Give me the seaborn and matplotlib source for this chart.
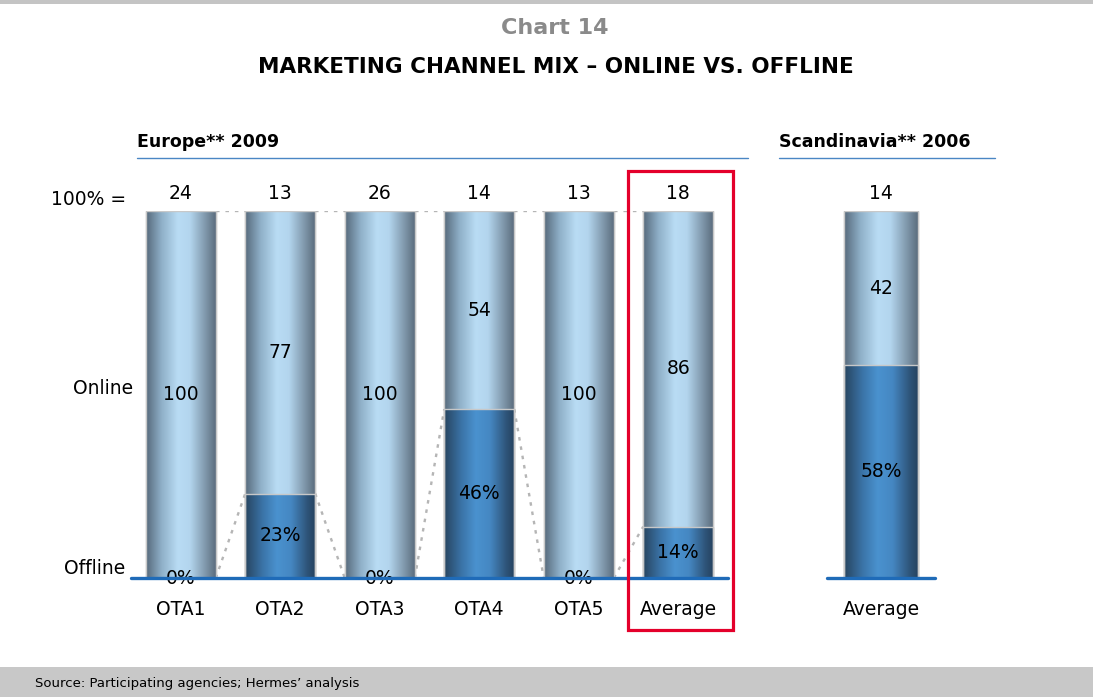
import numpy as np
import pandas as pd
import matplotlib
matplotlib.use("Agg")
import matplotlib.pyplot as plt
import seaborn as sns
from matplotlib.colors import LinearSegmentedColormap
from matplotlib.patches import Rectangle
from matplotlib.lines import Line2D

# ---- data ----
eu_categories = ["OTA1", "OTA2", "OTA3", "OTA4", "OTA5", "Average"]
eu_offline = [0, 23, 0, 46, 0, 14]
eu_online = [100, 77, 100, 54, 100, 86]
eu_totals = [24, 13, 26, 14, 13, 18]

sc_categories = ["Average"]
sc_offline = [58]
sc_online = [42]
sc_totals = [14]

W, H = 1093, 697
sns.set_theme(style="white")
plt.rcParams['font.family'] = ['DejaVu Sans']

FS = 13.5

fig = plt.figure(figsize=(W / 100, H / 100), dpi=100)

def fx(x):
    return x / W

def fy(y):
    return 1 - y / H

online_cmap = LinearSegmentedColormap.from_list(
    "on", [(0, "#56697b"), (0.22, "#8fb0c8"), (0.45, "#b9dcf4"), (0.62, "#b3d5ee"), (0.85, "#7d95a8"), (1, "#58697a")])
offline_cmap = LinearSegmentedColormap.from_list(
    "off", [(0, "#27445f"), (0.25, "#3b74a8"), (0.45, "#4a92cf"), (0.65, "#4587c2"), (0.88, "#2e5479"), (1, "#25415d")])

grad = np.linspace(0, 1, 256).reshape(1, -1)


def draw_group(ax, cats, offline, online, totals, width):
    df = pd.DataFrame({"cat": cats, "offline": offline, "online": online})
    df["total"] = df["offline"] + df["online"]
    sns.barplot(data=df, x="cat", y="total", order=cats, color="#b9dcf4", saturation=1,
                width=width, edgecolor="#c8c8c8", linewidth=1, ax=ax)
    n_on = len(ax.patches)
    sns.barplot(data=df, x="cat", y="offline", order=cats, color="#4a92cf", saturation=1,
                width=width, edgecolor="#c8c8c8", linewidth=1, ax=ax)
    patches = list(ax.patches)
    for k, p in enumerate(patches):
        cmap = online_cmap if k < n_on else offline_cmap
        x0, y0 = p.get_x(), p.get_y()
        w, h = p.get_width(), p.get_height()
        if h <= 0:
            continue
        im = ax.imshow(grad, cmap=cmap, extent=[x0, x0 + w, y0, y0 + h], aspect="auto",
                       zorder=p.get_zorder() + 0.1, interpolation="bicubic")
        im.set_clip_path(p)
        ax.add_patch(Rectangle((x0, y0), w, h, fill=False, edgecolor="#c8c8c8", lw=1,
                               zorder=p.get_zorder() + 0.2))
    ax.set_xlim(-0.5, len(cats) - 0.5)
    ax.set_ylim(0, 100)
    for i in range(len(cats)):
        ax.text(i, offline[i] + online[i] / 2, f"{online[i]}", ha="center", va="center",
                fontsize=FS, color="black", zorder=10)
        ax.text(i, offline[i] / 2, f"{offline[i]}%", ha="center", va="center",
                fontsize=FS, color="black", zorder=10)
        ax.text(i, 104.9, f"{totals[i]}", ha="center", va="center", fontsize=FS,
                color="black", clip_on=False)
    ax.axhline(0, color="#1f6bb8", lw=2.4, zorder=12, clip_on=False)
    for s in ax.spines.values():
        s.set_visible(False)
    ax.set_yticks([])
    ax.set_xlabel("")
    ax.set_ylabel("")
    ax.tick_params(axis="x", length=0, labelsize=FS, pad=16, colors="black")
    ax.set_facecolor("none")
    half = width / 2
    for i in range(len(cats) - 1):
        ax.plot([i + half, i + 1 - half], [100, 100], ls=(0, (1.5, 2.5)), color="#b5b5b5", lw=1.7, zorder=1)
        ax.plot([i + half, i + 1 - half], [offline[i], offline[i + 1]], ls=(0, (1.5, 2.5)),
                color="#b5b5b5", lw=1.7, zorder=1)


ax_bottom = fy(578)
ax_h = 367 / H
ax1 = fig.add_axes([fx(131), ax_bottom, 597 / W, ax_h])
draw_group(ax1, eu_categories, eu_offline, eu_online, eu_totals, 0.704)
ax2 = fig.add_axes([fx(827), ax_bottom, 108 / W, ax_h])
draw_group(ax2, sc_categories, sc_offline, sc_online, sc_totals, 0.69)

fig.text(fx(555), fy(28), "Chart 14", ha="center", va="center", fontsize=16,
         fontweight="bold", color="#8a8a8a")
fig.text(fx(556), fy(67), "MARKETING CHANNEL MIX – ONLINE VS. OFFLINE", ha="center",
         va="center", fontsize=15.5, fontweight="bold", color="black")

fig.text(fx(137), fy(142), "Europe** 2009", ha="left", va="center", fontsize=12.5,
         fontweight="bold", color="black")
fig.text(fx(779), fy(142), "Scandinavia** 2006", ha="left", va="center", fontsize=12.5,
         fontweight="bold", color="black")
fig.add_artist(Line2D([fx(137), fx(748)], [fy(158), fy(158)], color="#4a86c4", lw=1))
fig.add_artist(Line2D([fx(779), fx(995)], [fy(158), fy(158)], color="#4a86c4", lw=1))

fig.text(fx(126), fy(200), "100% =", ha="right", va="center", fontsize=FS, color="black")
fig.text(fx(133), fy(389), "Online", ha="right", va="center", fontsize=FS, color="black")
fig.text(fx(125), fy(568), "Offline", ha="right", va="center", fontsize=FS, color="black")

fig.add_artist(Rectangle((fx(628), fy(630)), (733 - 628) / W, (630 - 171) / H, fill=False,
                         edgecolor="#e4002b", lw=2.3, transform=fig.transFigure, zorder=20))

fig.add_artist(Rectangle((0, fy(4)), 1, 4 / H, facecolor="#c4c4c4", edgecolor="none",
                         transform=fig.transFigure))
fig.add_artist(Rectangle((0, 0), 1, (697 - 667) / H, facecolor="#c8c8c8", edgecolor="none",
                         transform=fig.transFigure))
fig.text(fx(35), fy(684), "Source: Participating agencies; Hermes’ analysis", ha="left",
         va="center", fontsize=9.5, color="black")

fig.savefig("out.png", dpi=100)
